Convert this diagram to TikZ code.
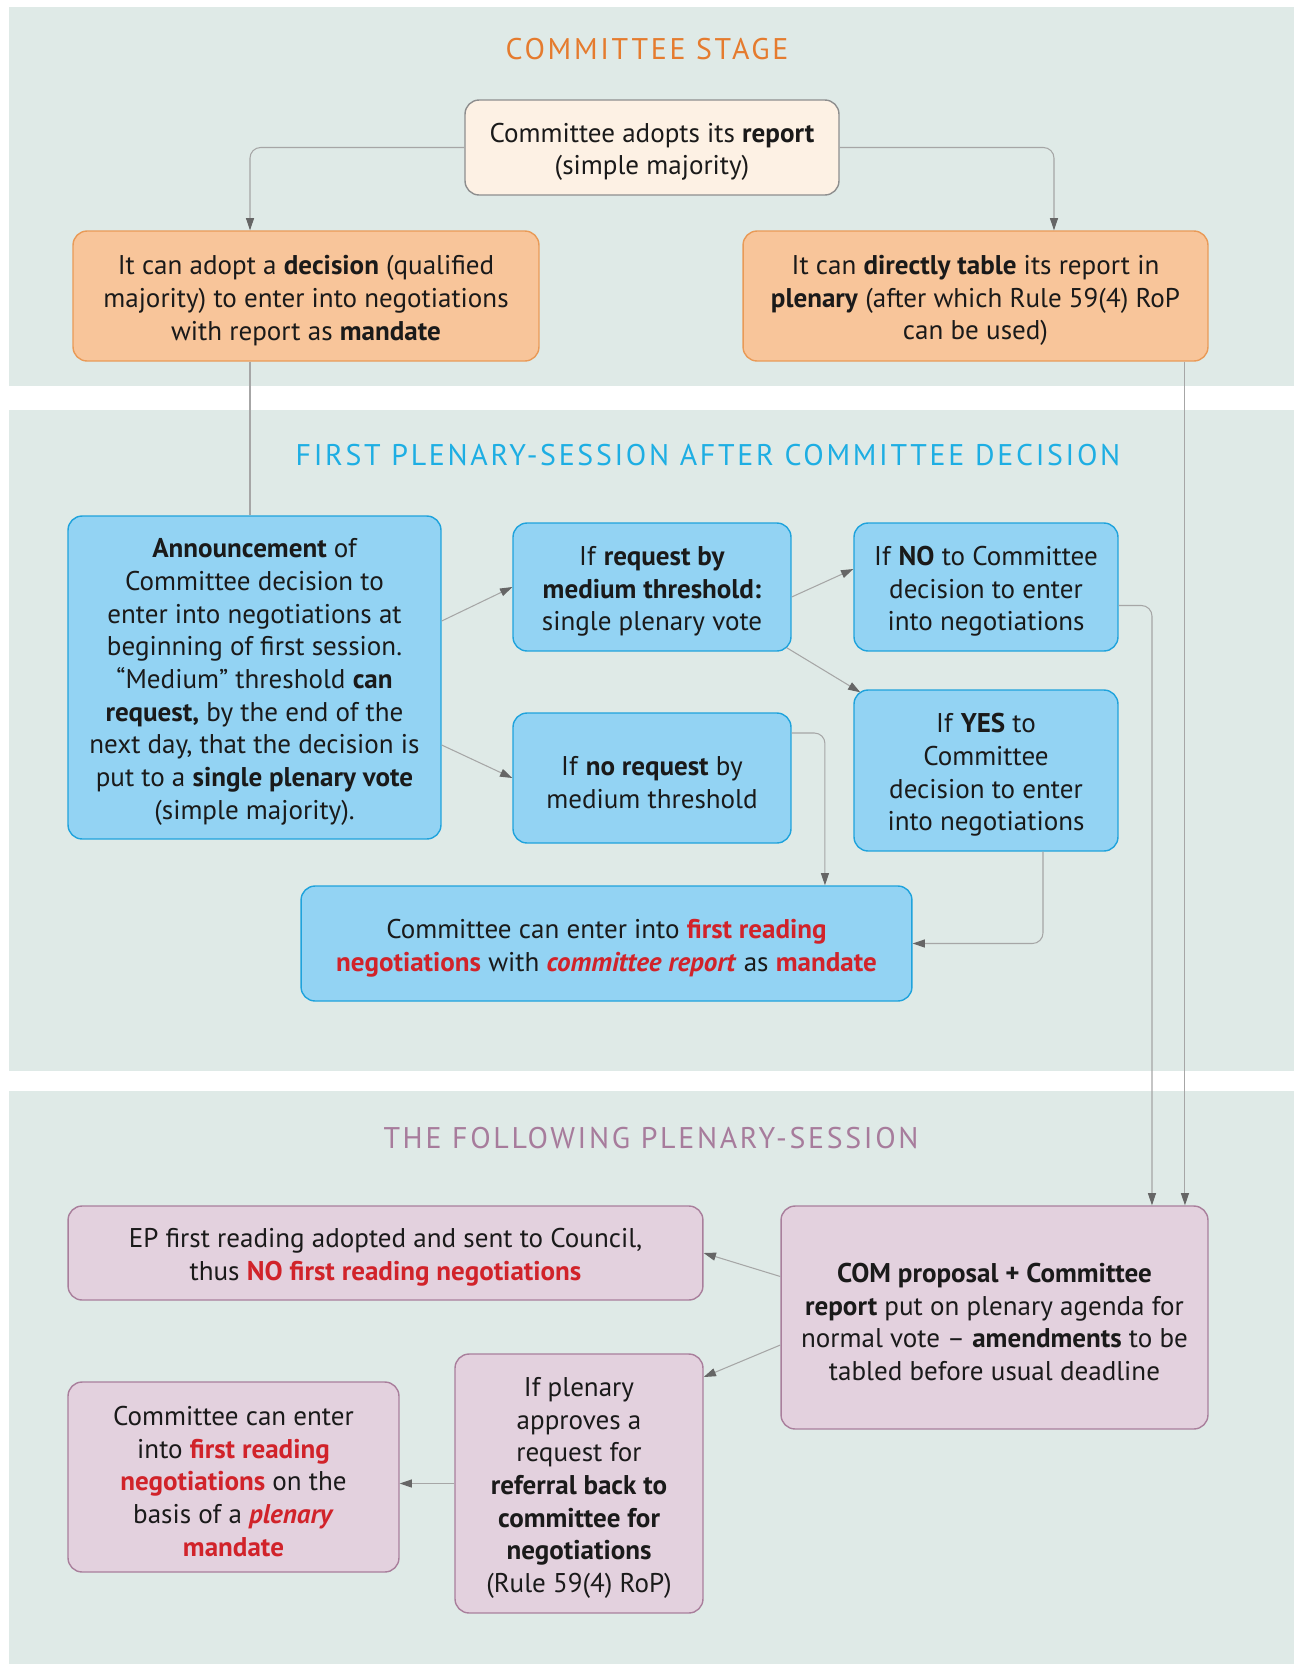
\documentclass[tikz,border=0pt]{standalone}
\usepackage{fontspec}
\setmainfont{PT Sans}
\usepackage{xcolor}
\definecolor{BandGray}{HTML}{DFEAE7}
\definecolor{CreamFill}{HTML}{FDF1E4}
\definecolor{CreamLine}{HTML}{8E8E8E}
\definecolor{OrangeFill}{HTML}{F8C59A}
\definecolor{OrangeLine}{HTML}{E99A57}
\definecolor{BlueFill}{HTML}{93D3F3}
\definecolor{BlueLine}{HTML}{1FA3DC}
\definecolor{MauveFill}{HTML}{E3D1DE}
\definecolor{MauveLine}{HTML}{A97F9C}
\definecolor{StageOrange}{HTML}{E57B2E}
\definecolor{StageCyan}{HTML}{1EAEE3}
\definecolor{StageMauve}{HTML}{A77C9C}
\definecolor{EPRed}{HTML}{D1232A}
\definecolor{LinkGray}{HTML}{A6A6A6}
\definecolor{TipGray}{HTML}{666666}
\definecolor{InkBlack}{HTML}{1A1A1A}
\newcommand{\redbf}[1]{\textcolor{EPRed}{\textbf{#1}}}
\newcommand{\reditbf}[1]{\textcolor{EPRed}{\textbf{\textit{#1}}}}
\usepackage{tikz}
\usetikzlibrary{arrows.meta, arrows, positioning}

\begin{document}
\begin{tikzpicture}[x=0.02cm, y=-0.02cm,
			box/.style 2 args={rounded corners=8pt, line width=0.8pt, align=flush center, text=InkBlack, font=\fontsize{15.4}{18.6}\selectfont, minimum width=#1, minimum height=#2, text width=#1-0.4cm, execute at begin node={\rule{0pt}{16pt}}},
			creambox/.style={fill=CreamFill, draw=CreamLine},
			orangebox/.style={fill=OrangeFill, draw=OrangeLine},
			bluebox/.style={fill=BlueFill, draw=BlueLine},
			mauvebox/.style={fill=MauveFill, draw=MauveLine},
			stagetitle/.style={font=\fontsize{17}{20}\selectfont\addfontfeature{LetterSpace=9}},
			link/.style={draw=LinkGray, line width=0.6pt, rounded corners=6pt},
			arrowlink/.style={link, -{Triangle[length=7pt, width=4.6pt, color=TipGray]}}]
			\useasboundingbox (0, 0) rectangle (1294, 1664);
			\fill[BandGray] (9, 7) rectangle (1294, 386);
			\fill[BandGray] (9, 410) rectangle (1294, 1071);
			\fill[BandGray] (9, 1091) rectangle (1294, 1664);

			\node[stagetitle, text=StageOrange] (titleA) at (647, 49) {COMMITTEE STAGE};
			\node[stagetitle, text=StageCyan] (titleB) at (708, 455) {FIRST PLENARY-SESSION AFTER COMMITTEE DECISION};
			\node[stagetitle, text=StageMauve] (titleC) at (651, 1138) {THE FOLLOWING PLENARY-SESSION};

			\node[box={7.48cm}{1.9cm}, creambox] (adopt) at (652, 147.5) {Committee adopts its \textbf{report}\\(simple majority)};
			\node[box={9.32cm}{2.6cm}, orangebox] (decision) at (306, 296) {It can adopt a \textbf{decision} (qualified\\majority) to enter into negotiations\\with report as \textbf{mandate}};
			\node[box={9.3cm}{2.6cm}, orangebox] (table) at (975.5, 296) {It can \textbf{directly table} its report in\\\textbf{plenary} (after which Rule 59(4) RoP\\can be used)};

			\node[box={7.46cm}{6.46cm}, bluebox] (announce) at (254.5, 677.5) {\textbf{Announcement} of\\Committee decision to\\enter into negotiations at\\beginning of first session.\\“Medium” threshold \textbf{can}\\\textbf{request,} by the end of the\\next day, that the decision is\\put to a \textbf{single plenary vote}\\(simple majority).};
			\node[box={5.56cm}{2.56cm}, bluebox] (request) at (652, 587) {If \textbf{request by}\\\textbf{medium threshold:}\\single plenary vote};
			\node[box={5.28cm}{2.56cm}, bluebox] (no) at (986, 587) {If \textbf{NO} to Committee\\decision to enter\\into negotiations};
			\node[box={5.56cm}{2.6cm}, bluebox] (norequest) at (652, 778) {If \textbf{no request} by\\medium threshold};
			\node[box={5.28cm}{3.22cm}, bluebox] (yes) at (986, 770.5) {If \textbf{YES} to\\Committee\\decision to enter\\into negotiations};
			\node[box={12.22cm}{2.3cm}, bluebox] (firstreading) at (606.5, 943.5) {Committee can enter into \redbf{first reading}\\\redbf{negotiations} with \reditbf{committee report} as \redbf{mandate}};

			\node[box={12.7cm}{1.88cm}, mauvebox] (epfirst) at (385.5, 1253) {EP first reading adopted and sent to Council,\\thus \redbf{NO first reading negotiations}};
			\node[box={8.54cm}{4.46cm}, mauvebox] (com) at (994.5, 1317.5) {\textbf{COM proposal + Committee}\\\textbf{report} put on plenary agenda for\\normal vote – \textbf{amendments} to be\\tabled before usual deadline};
			\node[box={4.96cm}{5.18cm}, mauvebox] (referral) at (579, 1483.5) {If plenary\\approves a\\request for\\\textbf{referral back to}\\\textbf{committee for}\\\textbf{negotiations}\\(Rule 59(4) RoP)};
			\node[box={6.62cm}{3.8cm}, mauvebox] (plenmandate) at (233.5, 1477) {Committee can enter\\into \redbf{first reading}\\\redbf{negotiations} on the\\basis of a \reditbf{plenary}\\\redbf{mandate}};

			\draw[arrowlink] (adopt.west) -| ([xshift=-1.12cm]decision.north);
			\draw[arrowlink] (adopt.east) -| ([xshift=1.57cm]table.north);
			\draw[link] ([xshift=-1.12cm]decision.south) -- ([xshift=-1.12cm]decision.south |- announce.north);
			\draw[arrowlink] ([xshift=4.19cm]table.south) -- ([xshift=4.19cm]table.south |- com.north);
			\draw[arrowlink] ([yshift=1.13cm]announce.east) -- (request.west);
			\draw[arrowlink] ([yshift=-1.35cm]announce.east) -- (norequest.west);
			\draw[arrowlink] ([yshift=-0.2cm]request.east) -- ([yshift=0.36cm]no.west);
			\draw[arrowlink] ([shift={(-0.1cm,0.08cm)}]request.south east) -- ([shift={(0.14cm,-0.06cm)}]yes.north west);
			\draw[arrowlink] ([yshift=-0.37cm]no.east) -| ([xshift=3.15cm]com.north);
			\draw[arrowlink] ([yshift=0.9cm]norequest.east) -| ([xshift=4.37cm]firstreading.north);
			\draw[arrowlink] ([xshift=1.14cm]yes.south) |- (firstreading.east);
			\draw[arrowlink] ([yshift=0.82cm]com.west) -- (epfirst.east);
			\draw[arrowlink] ([yshift=-0.55cm]com.west) -- ([yshift=2.13cm]referral.east);
			\draw[arrowlink] (referral.west) -- (referral.west -| plenmandate.east);
\end{tikzpicture}
\end{document}
